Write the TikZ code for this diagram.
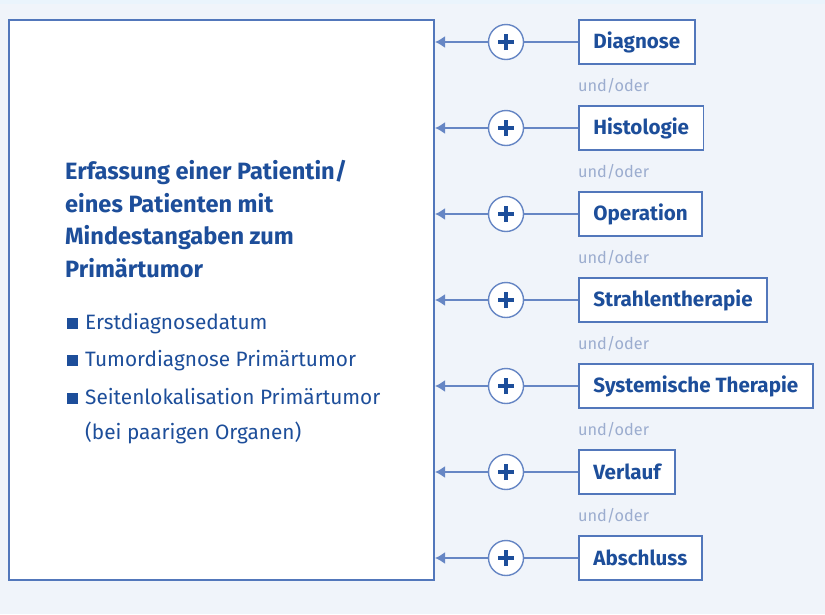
\documentclass[tikz,border=0pt]{standalone}
\usepackage{fontspec}
\setmainfont{Fira Sans}
\usetikzlibrary{arrows.meta}
\definecolor{hgrund}{HTML}{F0F4FA}
\definecolor{streifen}{HTML}{EAF4FC}
\definecolor{rand}{HTML}{5277BB}
\definecolor{linie}{HTML}{6686C4}
\definecolor{dunkel}{HTML}{1D4E9A}
\definecolor{hell}{HTML}{9CADCF}
\tikzset{
  hauptbox/.style={draw=rand,line width=2pt,fill=white,minimum width=425pt,minimum height=560pt},
  kasten/.style={draw=rand,line width=1.8pt,fill=white,minimum height=44pt,inner xsep=14.5pt,anchor=west,
    text=dunkel,font=\fontsize{20.6}{24}\selectfont\bfseries},
  plus/.style={circle,draw=linie,line width=1.4pt,fill=white,minimum size=35pt,inner sep=0pt,
    path picture={\draw[dunkel,line width=3.4pt]
      (path picture bounding box.center) +(-8pt,0) -- +(8pt,0)
      (path picture bounding box.center) +(0,-8pt) -- +(0,8pt);}},
  verb/.style={linie,line width=1.8pt},
  pfeil/.style={linie,line width=1.8pt,-{Latex[length=10pt,width=12pt]}},
  oder/.style={text=hell,font=\fontsize{16.3}{18}\selectfont,anchor=base west,inner sep=0pt},
  titel/.style={text=dunkel,font=\fontsize{23.6}{32.6}\selectfont\bfseries,align=left,anchor=north west,inner sep=0pt},
  punkt/.style={text=dunkel,font=\fontsize{20.8}{24}\selectfont,anchor=base west,inner sep=0pt}
}
\begin{document}
\begin{tikzpicture}[x=1pt,y=-1pt]
		\useasboundingbox (0,0) rectangle (825,614);
		\fill[hgrund] (0,0) rectangle (825,614);
		\fill[streifen] (0,0) rectangle (825,4);

		\node[hauptbox] (erf) at (221.5,300) {};
		\node[titel] (tit) at (65,160) {Erfassung einer Patientin/\\eines Patienten mit\\Mindestangaben zum\\Primärtumor};
		\node[punkt] (pk1) at (85,329) {\llap{\rule{11pt}{11pt}\hspace{7pt}}Erstdiagnosedatum};
		\node[punkt] (pk2) at (85,366) {\llap{\rule{11pt}{11pt}\hspace{7pt}}Tumordiagnose Primärtumor};
		\node[punkt] (pk3) at (85,404) {\llap{\rule{11pt}{11pt}\hspace{7pt}}Seitenlokalisation Primärtumor};
		\node[punkt] (pk4) at (85,439) {(bei paarigen Organen)};

		\node[kasten] (diag) at (578,42) {Diagnose};
		\node[kasten] (hist) at (578,128) {Histologie};
		\node[kasten] (op) at (578,214) {Operation};
		\node[kasten] (strahl) at (578,300) {Strahlentherapie};
		\node[kasten] (sys) at (578,386) {Systemische Therapie};
		\node[kasten] (verl) at (578,472) {Verlauf};
		\node[kasten] (abs) at (578,558) {Abschluss};

		\node[oder] (o1) at (578,91) {und/oder};
		\node[oder] (o2) at (578,177) {und/oder};
		\node[oder] (o3) at (578,263) {und/oder};
		\node[oder] (o4) at (578,349) {und/oder};
		\node[oder] (o5) at (578,435) {und/oder};
		\node[oder] (o6) at (578,521) {und/oder};

		\node[plus] (p1) at (506,42) {};
		\node[plus] (p2) at (506,128) {};
		\node[plus] (p3) at (506,214) {};
		\node[plus] (p4) at (506,300) {};
		\node[plus] (p5) at (506,386) {};
		\node[plus] (p6) at (506,472) {};
		\node[plus] (p7) at (506,558) {};

		\draw[verb] (diag) -- (p1);
		\draw[verb] (hist) -- (p2);
		\draw[verb] (op) -- (p3);
		\draw[verb] (strahl) -- (p4);
		\draw[verb] (sys) -- (p5);
		\draw[verb] (verl) -- (p6);
		\draw[verb] (abs) -- (p7);

		\draw[pfeil] (p1) -- (erf.east |- p1);
		\draw[pfeil] (p2) -- (erf.east |- p2);
		\draw[pfeil] (p3) -- (erf.east |- p3);
		\draw[pfeil] (p4) -- (erf.east |- p4);
		\draw[pfeil] (p5) -- (erf.east |- p5);
		\draw[pfeil] (p6) -- (erf.east |- p6);
		\draw[pfeil] (p7) -- (erf.east |- p7);
\end{tikzpicture}
\end{document}
